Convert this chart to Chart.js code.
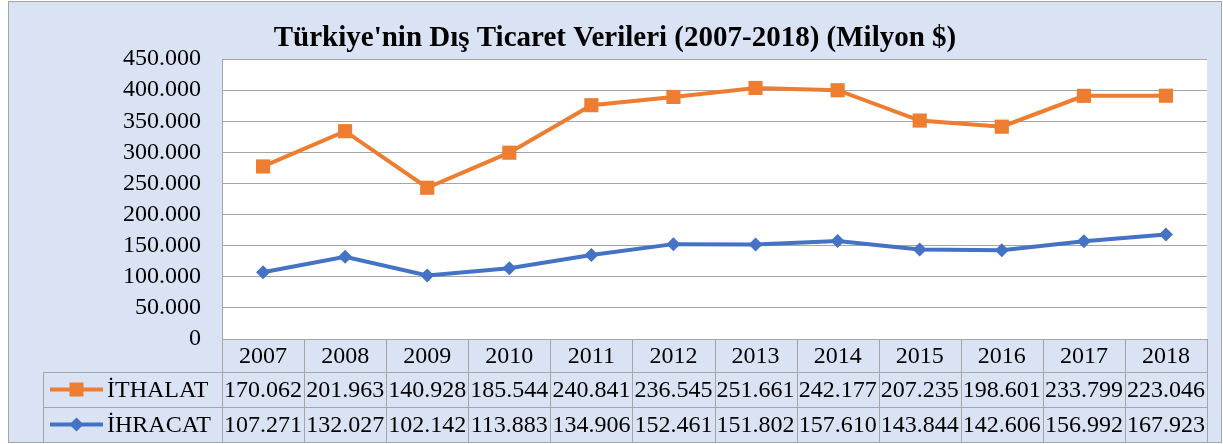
<!DOCTYPE html>
<html>
<head>
<meta charset="utf-8">
<script src="https://cdn.jsdelivr.net/npm/chart.js@4/dist/chart.umd.min.js"></script>
<style>
  body { margin: 0; background: #fff; }
  canvas { display: block; }
</style>
</head>
<body>
<canvas id="myChart" width="1223" height="444"></canvas>
<script>
// veriler (milyon $)
const years = ['2007', '2008', '2009', '2010', '2011', '2012', '2013', '2014', '2015', '2016', '2017', '2018'];
const ithalat = [170062, 201963, 140928, 185544, 240841, 236545, 251661, 242177, 207235, 198601, 233799, 223046];
const ihracat = [107271, 132027, 102142, 113883, 134906, 152461, 151802, 157610, 143844, 142606, 156992, 167923];
const chartTitle = "Türkiye'nin Dış Ticaret Verileri (2007-2018) (Milyon $)";

const BG = '#DAE3F3';
const GRID = '#A6A6A6';
const ORANGE = '#ED7D31';
const BLUE = '#4472C4';
const FONT = '"Liberation Serif", "Times New Roman", serif';

function fmt(v) {
    if (v === 0) return '0';
    const k = Math.floor(v / 1000);
    const r = String(v % 1000).padStart(3, '0');
    return k + '.' + r;
}

function drawMarker(ctx, type, x, y, color) {
    ctx.fillStyle = color;
    if (type === 'rect') {
        ctx.fillRect(x - 7, y - 7, 14, 14);
    } else {
        ctx.beginPath();
        ctx.moveTo(x, y - 7);
        ctx.lineTo(x + 7, y);
        ctx.lineTo(x, y + 7);
        ctx.lineTo(x - 7, y);
        ctx.closePath();
        ctx.fill();
    }
}

const tablePlugin = {
    id: 'dataTable',
    beforeDraw(chart) {
        const { ctx, chartArea: a } = chart;
        ctx.save();
        ctx.fillStyle = '#fff';
        ctx.fillRect(0, 0, chart.width, chart.height);
        ctx.fillStyle = BG;
        ctx.fillRect(8, 1, 1214, 442);
        ctx.strokeStyle = GRID;
        ctx.lineWidth = 1;
        ctx.strokeRect(8.5, 1.5, 1213, 441);
        ctx.fillStyle = '#fff';
        ctx.fillRect(a.left, a.top, a.width, a.height);
        ctx.restore();
    },
    afterDraw(chart) {
        const { ctx, chartArea: a } = chart;
        const xs = chart.scales.x;
        const colW = a.width / years.length;
        const legLeft = 43;
        const rows = [a.bottom, a.bottom + 33, a.bottom + 68, a.bottom + 103];

        ctx.save();
        // baslik
        ctx.fillStyle = '#000';
        ctx.font = 'bold 29px ' + FONT;
        ctx.textAlign = 'center';
        ctx.textBaseline = 'middle';
        ctx.fillText(chartTitle, 615, 39);

        // tablo cizgileri
        ctx.strokeStyle = GRID;
        ctx.lineWidth = 1;
        ctx.beginPath();
        ctx.moveTo(a.left, rows[0] + 0.5);
        ctx.lineTo(a.right, rows[0] + 0.5);
        for (let r = 1; r < rows.length; r++) {
            ctx.moveTo(legLeft, Math.round(rows[r]) + 0.5);
            ctx.lineTo(a.right, Math.round(rows[r]) + 0.5);
        }
        for (let i = 0; i <= years.length; i++) {
            const x = Math.round(a.left + i * colW) + 0.5;
            ctx.moveTo(x, rows[0]);
            ctx.lineTo(x, rows[3]);
        }
        ctx.moveTo(legLeft + 0.5, rows[1]);
        ctx.lineTo(legLeft + 0.5, rows[3]);
        ctx.stroke();

        // yillar ve degerler
        ctx.font = '24px ' + FONT;
        ctx.fillStyle = '#000';
        ctx.textAlign = 'center';
        years.forEach((y, i) => {
            const cx = xs.getPixelForValue(i);
            ctx.fillText(y, cx, (rows[0] + rows[1]) / 2 + 1);
            ctx.fillText(fmt(ithalat[i]), cx, (rows[1] + rows[2]) / 2 + 1);
            ctx.fillText(fmt(ihracat[i]), cx, (rows[2] + rows[3]) / 2 + 1);
        });

        // lejant
        const legend = [
            { label: 'İTHALAT', color: ORANGE, marker: 'rect', y: (rows[1] + rows[2]) / 2 },
            { label: 'İHRACAT', color: BLUE, marker: 'rectRot', y: (rows[2] + rows[3]) / 2 }
        ];
        legend.forEach(l => {
            ctx.strokeStyle = l.color;
            ctx.lineWidth = 4;
            ctx.beginPath();
            ctx.moveTo(50, l.y);
            ctx.lineTo(103, l.y);
            ctx.stroke();
            drawMarker(ctx, l.marker, 76.5, l.y, l.color);
            ctx.fillStyle = '#000';
            ctx.textAlign = 'left';
            ctx.fillText(l.label, 107, l.y + 1);
        });
        ctx.restore();
    }
};

const ctx = document.getElementById('myChart').getContext('2d');
const chart = new Chart(ctx, {
    type: 'line',
    data: {
        labels: years,
        datasets: [{
            label: 'İHRACAT',
            data: ihracat,
            borderColor: BLUE,
            backgroundColor: BLUE,
            borderWidth: 4,
            pointStyle: 'rectRot',
            pointRadius: 7,
            pointBorderWidth: 0,
            fill: false,
            tension: 0
        }, {
            label: 'İTHALAT',
            data: ithalat,
            borderColor: ORANGE,
            backgroundColor: ORANGE,
            borderWidth: 4,
            pointStyle: 'rect',
            pointRadius: 10,
            pointBorderWidth: 0,
            fill: false,
            tension: 0
        }]
    },
    options: {
        responsive: false,
        animation: false,
        layout: { padding: { left: 0, right: 16, top: 59, bottom: 105 } },
        plugins: {
            legend: { display: false },
            title: { display: false },
            tooltip: { enabled: false }
        },
        scales: {
            x: {
                display: false,
                offset: true
            },
            y: {
                stacked: true,
                min: 0,
                max: 450000,
                afterFit: s => { s.width = 222; },
                ticks: {
                    stepSize: 50000,
                    autoSkip: false,
                    padding: 21,
                    color: '#000',
                    font: { family: FONT, size: 24 },
                    callback: v => fmt(v)
                },
                grid: { color: GRID, drawTicks: false },
                border: { color: GRID }
            }
        }
    },
    plugins: [tablePlugin]
});
</script>
</body>
</html>
